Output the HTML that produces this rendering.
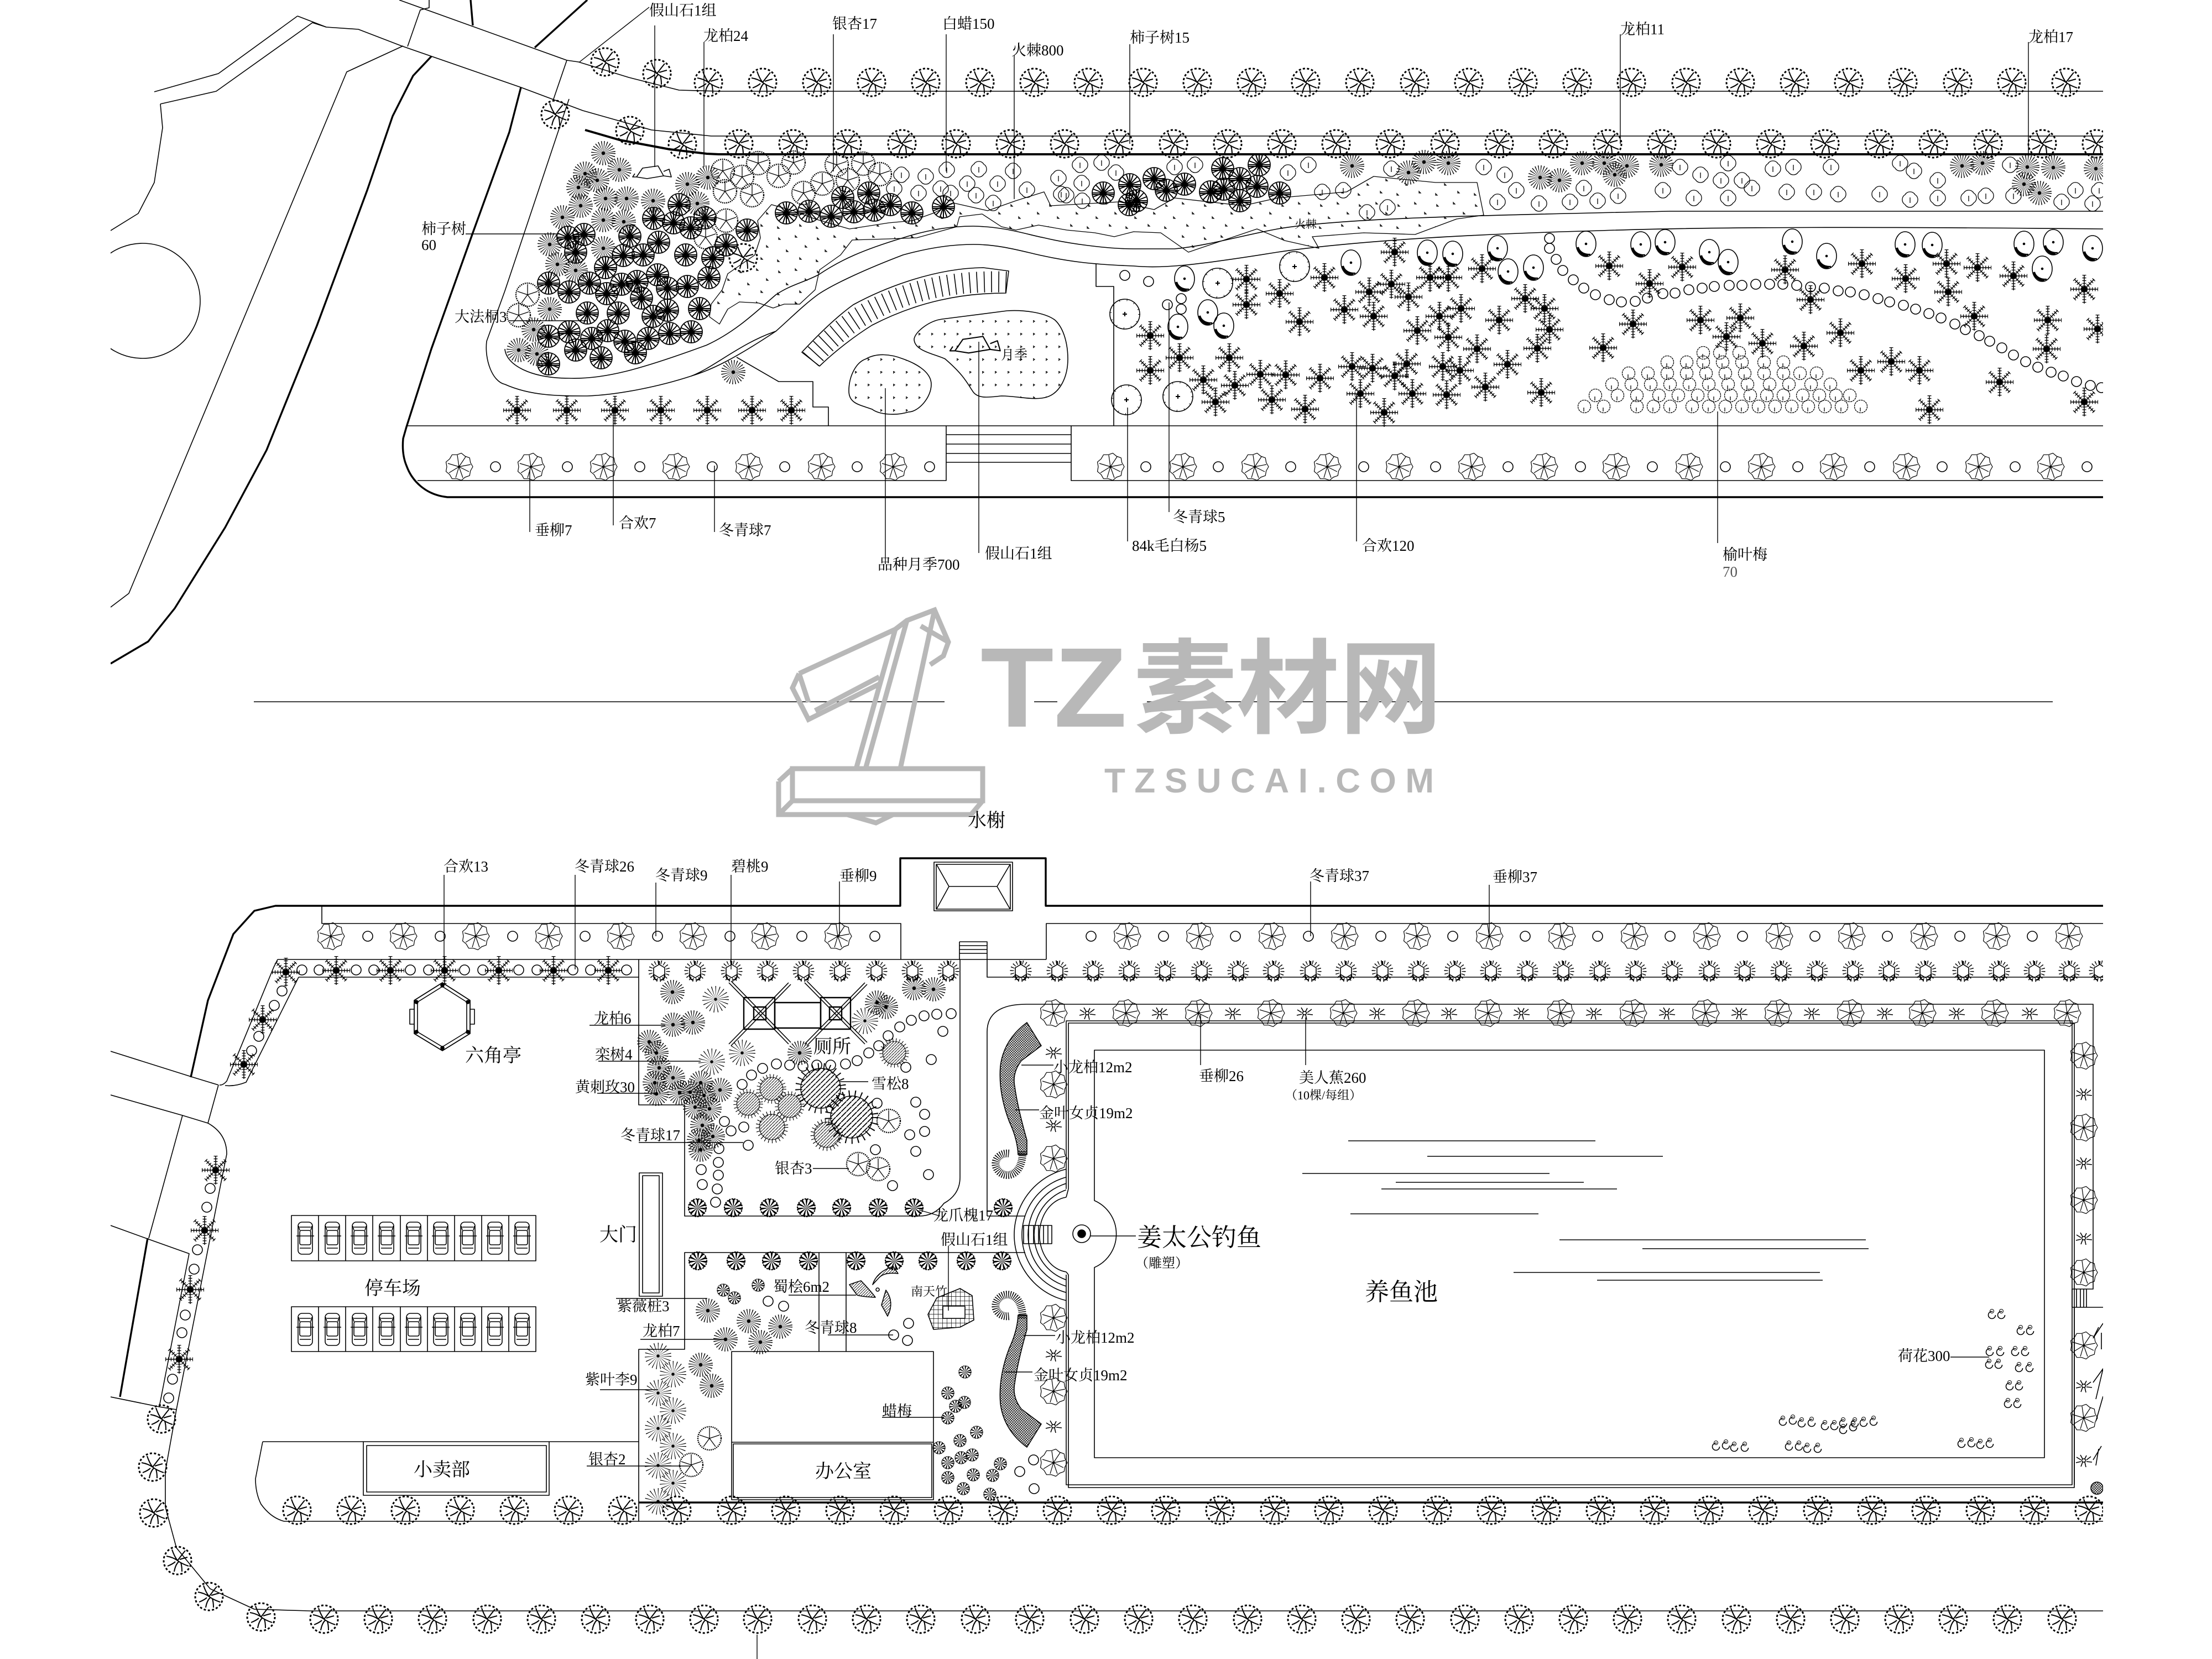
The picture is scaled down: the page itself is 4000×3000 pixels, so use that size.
<!DOCTYPE html>
<html><head><meta charset="utf-8"><style>
html,body{margin:0;padding:0;background:#fff}
svg{display:block}
text{font-family:"Liberation Serif","Noto Serif CJK SC",serif;fill:#000;stroke:none}
</style></head><body>
<svg xmlns="http://www.w3.org/2000/svg" width="4000" height="3000" viewBox="0 0 4000 3000">
<defs>
<clipPath id="pg"><rect x="200" y="0" width="3603" height="3000"/></clipPath>
<clipPath id="rc"><rect x="1700" y="2090" width="228" height="290"/></clipPath>
<pattern id="st" width="70" height="60" patternUnits="userSpaceOnUse"><path d="M8,10l3,3h-3zM38,6l3,3h-3zM56,24l3,3h-3zM22,32l3,3h-3zM46,46l3,3h-3zM6,50l3,3h-3z" fill="none" stroke="#000" stroke-width="1.2"/></pattern>
<pattern id="dt" x="1684" y="579" width="23" height="23" patternUnits="userSpaceOnUse"><path d="M0,0l3,2l-3,2z" fill="none" stroke="#000" stroke-width="1.2"/></pattern>
<pattern id="ht" width="5" height="5" patternUnits="userSpaceOnUse"><path d="M0,5L5,0" stroke="#000" stroke-width=".9"/></pattern>
<pattern id="xh" width="8" height="8" patternUnits="userSpaceOnUse"><path d="M0,0H8M0,0V8" stroke="#000" stroke-width="1.4"/></pattern>
<pattern id="hh" width="4.5" height="4.5" patternUnits="userSpaceOnUse"><path d="M0,4.5L4.5,0M0,0L4.5,4.5" stroke="#000" stroke-width=".8"/></pattern>
<g id="d"><circle r="25" stroke-width="3" stroke-dasharray="4 3.5"/><path stroke-width="2" d="M-20,-8Q-8,-6 0,0Q8,6 20,10M-10,-20Q-6,-8 0,0M14,-18Q6,-8 0,0M-18,10Q-8,6 -4,2M-6,20Q-4,8 2,2M8,20Q8,10 6,4M18,-6Q10,-4 4,-2"/></g>
<g id="w" stroke-width="1.2"><polygon points="25,0 20.7,7.5 19.2,16.1 11,19 4.3,24.6 -3.8,21.7 -12.5,21.7 -16.9,14.1 -23.5,8.6 -22,0 -23.5,-8.6 -16.9,-14.1 -12.5,-21.7 -3.8,-21.7 4.3,-24.6 11,-19 19.2,-16.1 20.7,-7.5"/><path d="M0,0L-3,-21M0,0L12,-18M0,0L21,-4M0,0L18,9M0,0L7,20M0,0L-6,20M0,0L-18,11M0,0L-20,-6"/><circle r="1.5" fill="#000"/></g>
<circle id="o" r="9"/>
<g id="s"><path stroke-width="1.5" d="M-25,0H25M0,-26V26M-18,-18L18,18M-18,18L18,-18"/><path stroke-width="7" stroke-dasharray="1.3 3.6" d="M-25,0H25M0,-26V26M-18,-18L18,18M-18,18L18,-18"/><circle r="4" fill="#000"/></g>
<g id="b"><circle r="11" stroke-width="22" stroke-dasharray=".8 2.1"/><circle r="2.5" fill="#000"/></g>
<g id="r"><circle r="12" stroke-width="24" stroke-dasharray=".7 3.3"/><circle r="2" fill="#000"/></g>
<g id="c"><circle r="20" stroke-width="1.8"/><path stroke-width="2" d="M-19,0H19M-19,3H19M0,-19V19M-13,-14L13,14M-13,14L13,-14M-6,-18L6,18M6,-18L-6,18M-18,-7L18,7M18,-7L-18,7"/></g>
<g id="f"><circle r="21" stroke-width="2.4" stroke-dasharray="2 1.6"/><path stroke-width="1.3" d="M0,0L0,-19M0,0L18,-6M0,0L11,15M0,0L-11,15M0,0L-18,-6"/></g>
<g id="l" stroke-width="1.3"><path d="M-9,-9A10.5,10.5 0 0 1 9,-9A10.5,10.5 0 0 1 9,9A10.5,10.5 0 0 1 -9,9A10.5,10.5 0 0 1 -9,-9ZM0,-4V6"/></g>
<g id="g"><circle r="16" stroke-width="2.2" stroke-dasharray="3 1.5"/><circle r="8" stroke-width="16" stroke-dasharray="2 2.6"/></g>
<g id="h"><polygon points="0,-12 10,-6 10,6 0,12 -10,6 -10,-6" stroke-width="1.6"/><circle r="16" stroke-width="7" stroke-dasharray="1.4 4.2"/><path stroke-width="2.4" d="M-10,6Q-10,16 -3,16M10,6Q10,16 3,16M0,-12V-18"/></g>
<g id="m"><ellipse rx="3.5" ry="3"/><path stroke-width="1.6" d="M-5,-1L-13,-6M-5,2L-14,4M5,-1L13,-7M5,2L15,3M-2,3L-5,11M2,3L4,12M-2,-3L-6,-10M2,-3L5,-9"/></g>
<g id="q"><circle r="20" fill="url(#ht)" stroke-width=".8"/><circle r="22" stroke-width="7" stroke-dasharray="1 4.6"/></g>
<g id="u"><circle r="27"/><circle r="26" stroke-width="4" stroke-dasharray="1 13"/><path stroke-width="2" d="M-4,0H4M0,-4V4"/></g>
<g id="e"><ellipse rx="18" ry="23"/><path stroke-width="4" d="M-15,6Q-10,21 4,21"/><path stroke-width="2.5" d="M-12,11Q-5,20 8,19"/><circle r="1.5" fill="#000"/></g>
<g id="n" stroke-width="1.3"><circle r="11.5" stroke-dasharray="3.5 1"/><path d="M-1,9V2"/></g>
<g id="k"><circle r="5.5" stroke-width="11" stroke-dasharray="1.3 1.9"/><circle r="11" stroke-dasharray="2 1"/></g>
<g id="p"><circle r="6.5" stroke-dasharray="32 9"/><circle cy="-7" r="3.5" stroke-width="1"/></g>
<g id="rk"><path d="M-27,8L-16,-8L12,-12L22,6L-8,11ZM-27,8L-34,8L-30,2M22,6L36,8L32,-6L22,-2"/></g>
<g id="car"><rect x="-13" y="-29" width="26" height="58" rx="7"/><rect x="-10" y="-14" width="20" height="26" rx="3"/><path d="M-10,-20H10M-10,18H10M-16,-4H16M-10,-14L-12,-22M10,-14L12,-22"/></g>
</defs>
<rect width="4000" height="3000" fill="#fff"/>
<g clip-path="url(#pg)" fill="none" stroke="#000" stroke-width="1.6" stroke-linejoin="round">

<!-- TOP: roads -->
<circle cx="258" cy="544" r="104"/>
<path d="M722,0L1025,109L1046,112L1137,140L1228,163L1300,165H3803"/>
<path d="M538,29L590,49L648,53L726,83L942,158L1054,200L1178,235L1286,246H3803"/>
<path d="M279,166L395,133L538,29M290,188L391,165L565,41L590,49M290,188L294,231L279,330L250,386L200,417"/>
<path d="M729,83L627,130L233,1073L200,1098"/>
<path d="M776,0V14L760,18L737,84M1025,109L1000,182M1029,179L913,526L880,617C876,650 890,690 913,695C960,716 1010,716 1062,716C1120,714 1195,698 1250,680C1290,665 1340,620 1403,599"/>
<g stroke-width="3.4">
<path d="M780,102L747,137L710,210L664,344L573,589L482,814L407,954L316,1100L268,1160L200,1200"/>
<path d="M851,0L855,46M1062,0L967,86"/>
<path d="M942,158L921,239L855,421L780,631L735,772L729,793C727,815 730,830 735,842C745,870 770,895 809,899H3803"/>
<path d="M1058,235L1120,253L1211,270L1278,278L1300,279H3803" stroke-width="4"/>
</g>
<!-- garden road curves -->
<path d="M913,631C915,660 960,684 1029,684C1090,686 1153,670 1278,624C1330,600 1366,565 1403,533C1430,515 1450,512 1480,497C1520,470 1560,452 1633,430C1680,415 1720,409 1760,409C1820,410 1860,425 1888,430C1930,440 2000,450 2050,450L2124,450C2180,445 2250,425 2310,414C2420,395 2650,390 3019,382H3803"/>
<path d="M1250,680C1290,668 1332,646 1403,599C1430,575 1455,550 1480,532C1510,512 1570,485 1633,461C1680,448 1720,442 1760,442C1810,442 1850,455 1888,463C1930,472 1970,478 2050,481C2100,486 2160,480 2310,456C2420,440 2600,425 2895,417C3100,410 3400,410 3803,414"/>
<path d="M1332,646L1408,690H1470V736H1498V770M1982,477V518H2014V770M735,770H3803M755,869H1711V770M1937,770V869H3803M1711,786H1937M1711,803H1937M1711,820H1937M1711,836H1937"/>
<!-- stipple -->
<path fill="url(#st)" stroke-width="1.3" d="M1395,370L1370,399L1375,430L1365,461L1316,495L1306,524L1286,550L1283,573L1301,586L1316,559L1337,546L1372,548L1398,557L1418,550L1446,550L1474,524L1482,488L1520,461L1541,434L1607,432L1658,430L1730,410L1735,392L1776,387L1811,410L1837,416L1878,407L1929,416L1980,421L2015,428L2050,419L2099,421L2149,456L2273,414L2323,435L2385,449L2373,428L2466,421L2559,424L2634,396L2683,389L2671,330L2596,330L2484,319L2435,347L2310,358L2248,372L2124,358L2087,379L2024,365L1900,372L1888,347L1837,363L1786,381L1724,367L1689,385L1650,399L1607,403L1536,414L1474,396L1434,381Z"/>
<!-- bench arc -->
<path d="M1450,637C1475,610 1510,575 1543,551C1600,520 1690,485 1778,484L1824,490L1819,530C1740,530 1660,545 1577,588C1545,608 1510,635 1482,662Z"/>
<path stroke-width="38" stroke-dasharray="1.6 11.5" d="M1466,650C1490,622 1525,590 1560,570C1620,535 1700,506 1821,510"/>
<!-- beds -->
<path fill="url(#dt)" d="M1653,613C1655,600 1680,580 1704,577L1821,562C1850,560 1890,565 1908,579C1925,595 1931,625 1931,649C1931,680 1918,710 1893,718C1870,725 1840,716 1811,716C1790,718 1770,722 1760,709C1750,695 1745,680 1709,649C1690,640 1653,635 1653,613Z"/>
<path fill="url(#dt)" d="M1535,707C1535,680 1548,655 1566,649C1585,638 1610,640 1633,649C1650,655 1684,670 1684,695C1684,720 1660,745 1643,745C1620,752 1590,750 1577,740C1555,732 1535,730 1535,707Z"/>
<use href="#rk" x="1178" y="312"/><g transform="translate(1762,624) scale(1.3)"><use href="#rk"/></g>

<!-- top tree rows -->
<g transform="translate(0,149)"><use href="#d" x="1281"/><use href="#d" x="1379"/><use href="#d" x="1477"/><use href="#d" x="1576"/><use href="#d" x="1674"/><use href="#d" x="1772"/><use href="#d" x="1870"/><use href="#d" x="1968"/><use href="#d" x="2067"/><use href="#d" x="2165"/><use href="#d" x="2263"/><use href="#d" x="2361"/><use href="#d" x="2459"/><use href="#d" x="2558"/><use href="#d" x="2656"/><use href="#d" x="2754"/><use href="#d" x="2852"/><use href="#d" x="2950"/><use href="#d" x="3049"/><use href="#d" x="3147"/><use href="#d" x="3245"/><use href="#d" x="3343"/><use href="#d" x="3441"/><use href="#d" x="3540"/><use href="#d" x="3638"/><use href="#d" x="3736"/></g>
<g transform="translate(0,260)"><use href="#d" x="1336"/><use href="#d" x="1434"/><use href="#d" x="1532"/><use href="#d" x="1631"/><use href="#d" x="1729"/><use href="#d" x="1827"/><use href="#d" x="1925"/><use href="#d" x="2023"/><use href="#d" x="2122"/><use href="#d" x="2220"/><use href="#d" x="2318"/><use href="#d" x="2416"/><use href="#d" x="2514"/><use href="#d" x="2613"/><use href="#d" x="2711"/><use href="#d" x="2809"/><use href="#d" x="2907"/><use href="#d" x="3005"/><use href="#d" x="3104"/><use href="#d" x="3202"/><use href="#d" x="3300"/><use href="#d" x="3398"/><use href="#d" x="3496"/><use href="#d" x="3595"/><use href="#d" x="3693"/><use href="#d" x="3791"/></g>
<use href="#d" x="1094" y="112"/><use href="#d" x="1188" y="133"/><use href="#d" x="1004" y="207"/><use href="#d" x="1139" y="236"/><use href="#d" x="1234" y="261"/><use href="#d" x="1344" y="466"/>

<!-- top row willow / balls -->
<g transform="translate(0,844)"><use href="#w" x="830"/><use href="#w" x="960"/><use href="#w" x="1091"/><use href="#w" x="1222"/><use href="#w" x="1354"/><use href="#w" x="1485"/><use href="#w" x="1615"/><use href="#w" x="2008"/><use href="#w" x="2139"/><use href="#w" x="2269"/><use href="#w" x="2400"/><use href="#w" x="2530"/><use href="#w" x="2661"/><use href="#w" x="2792"/><use href="#w" x="2922"/><use href="#w" x="3054"/><use href="#w" x="3185"/><use href="#w" x="3315"/><use href="#w" x="3447"/><use href="#w" x="3578"/><use href="#w" x="3708"/>
<use href="#o" x="896"/><use href="#o" x="1026"/><use href="#o" x="1157"/><use href="#o" x="1288"/><use href="#o" x="1419"/><use href="#o" x="1550"/><use href="#o" x="1681"/><use href="#o" x="2072"/><use href="#o" x="2203"/><use href="#o" x="2334"/><use href="#o" x="2466"/><use href="#o" x="2596"/><use href="#o" x="2727"/><use href="#o" x="2858"/><use href="#o" x="2988"/><use href="#o" x="3120"/><use href="#o" x="3251"/><use href="#o" x="3381"/><use href="#o" x="3512"/><use href="#o" x="3644"/><use href="#o" x="3774"/></g>
<g transform="translate(0,742)"><use href="#s" x="935"/><use href="#s" x="1025"/><use href="#s" x="1112"/><use href="#s" x="1195"/><use href="#s" x="1279"/><use href="#s" x="1360"/><use href="#s" x="1431"/></g>

<!-- bursts top -->
<use href="#b" x="1326" y="673"/><use href="#b" x="1091" y="277"/><use href="#b" x="1058" y="314"/><use href="#b" x="1120" y="307"/><use href="#b" x="1080" y="326"/><use href="#b" x="1046" y="339"/><use href="#b" x="1050" y="372"/><use href="#b" x="1095" y="359"/><use href="#b" x="1133" y="359"/><use href="#b" x="1181" y="363"/><use href="#b" x="1243" y="333"/><use href="#b" x="1280" y="321"/><use href="#b" x="1261" y="368"/><use href="#b" x="1017" y="393"/><use href="#b" x="1091" y="398"/><use href="#b" x="1128" y="401"/><use href="#b" x="994" y="442"/><use href="#b" x="1091" y="449"/><use href="#b" x="1008" y="478"/><use href="#b" x="1041" y="489"/><use href="#b" x="994" y="559"/><use href="#b" x="965" y="596"/><use href="#b" x="938" y="633"/><use href="#b" x="971" y="640"/>
<use href="#b" x="2445" y="300"/><use href="#b" x="2547" y="312"/><use href="#b" x="2575" y="293"/><use href="#b" x="2619" y="295"/><use href="#b" x="2785" y="321"/><use href="#b" x="2820" y="326"/><use href="#b" x="2861" y="295"/><use href="#b" x="2901" y="295"/><use href="#b" x="2942" y="300"/><use href="#b" x="2920" y="316"/><use href="#b" x="3004" y="298"/><use href="#b" x="3548" y="300"/><use href="#b" x="3585" y="295"/><use href="#b" x="3666" y="302"/><use href="#b" x="3713" y="303"/><use href="#b" x="3660" y="333"/><use href="#b" x="3688" y="349"/><use href="#b" x="3790" y="305"/>

<!-- persimmon sectors -->
<use href="#c" x="1228" y="370"/><use href="#c" x="1182" y="395"/><use href="#c" x="1218" y="403"/><use href="#c" x="1249" y="412"/><use href="#c" x="1275" y="394"/><use href="#c" x="1351" y="416"/><use href="#c" x="1027" y="429"/><use href="#c" x="1056" y="424"/><use href="#c" x="1139" y="427"/><use href="#c" x="1191" y="438"/><use href="#c" x="1041" y="456"/><use href="#c" x="1313" y="443"/><use href="#c" x="1289" y="466"/><use href="#c" x="1240" y="461"/><use href="#c" x="1163" y="461"/><use href="#c" x="1127" y="462"/><use href="#c" x="1095" y="484"/><use href="#c" x="992" y="512"/><use href="#c" x="1066" y="512"/><use href="#c" x="1029" y="528"/><use href="#c" x="1097" y="531"/><use href="#c" x="1124" y="514"/><use href="#c" x="1152" y="509"/><use href="#c" x="1189" y="497"/><use href="#c" x="1207" y="521"/><use href="#c" x="1243" y="518"/><use href="#c" x="1282" y="502"/><use href="#c" x="1160" y="539"/><use href="#c" x="1265" y="558"/><use href="#c" x="1181" y="572"/><use href="#c" x="1207" y="561"/><use href="#c" x="1211" y="603"/><use href="#c" x="1250" y="600"/><use href="#c" x="1172" y="612"/><use href="#c" x="1130" y="617"/><use href="#c" x="1099" y="598"/><use href="#c" x="1070" y="612"/><use href="#c" x="1029" y="600"/><use href="#c" x="992" y="608"/><use href="#c" x="1041" y="633"/><use href="#c" x="1087" y="647"/><use href="#c" x="1149" y="638"/><use href="#c" x="992" y="658"/><use href="#c" x="1062" y="566"/><use href="#c" x="1118" y="566"/>
<use href="#c" x="1571" y="349"/><use href="#c" x="1524" y="357"/><use href="#c" x="1610" y="370"/><use href="#c" x="1544" y="383"/><use href="#c" x="1581" y="380"/><use href="#c" x="1422" y="385"/><use href="#c" x="1463" y="382"/><use href="#c" x="1503" y="391"/><use href="#c" x="1649" y="385"/><use href="#c" x="1706" y="374"/><use href="#c" x="1995" y="349"/><use href="#c" x="2043" y="334"/><use href="#c" x="2042" y="370"/><use href="#c" x="2087" y="323"/><use href="#c" x="2142" y="333"/><use href="#c" x="2109" y="344"/><use href="#c" x="2055" y="363"/><use href="#c" x="2211" y="305"/><use href="#c" x="2242" y="323"/><use href="#c" x="2277" y="298"/><use href="#c" x="2273" y="337"/><use href="#c" x="2189" y="347"/><use href="#c" x="2213" y="342"/><use href="#c" x="2314" y="349"/><use href="#c" x="2242" y="363"/>

<!-- flower -->
<use href="#f" x="1307" y="309"/><use href="#f" x="1342" y="320"/><use href="#f" x="1371" y="295"/><use href="#f" x="1435" y="294"/><use href="#f" x="1408" y="318"/><use href="#f" x="1311" y="346"/><use href="#f" x="1360" y="353"/><use href="#f" x="1487" y="332"/><use href="#f" x="1453" y="349"/><use href="#f" x="1513" y="298"/><use href="#f" x="1561" y="296"/><use href="#f" x="1591" y="315"/><use href="#f" x="1533" y="326"/><use href="#f" x="1313" y="399"/><use href="#f" x="1276" y="429"/><use href="#f" x="954" y="533"/><use href="#f" x="938" y="570"/>
<!-- clouds -->
<use href="#l" x="1630" y="316"/><use href="#l" x="1617" y="341"/><use href="#l" x="1674" y="319"/><use href="#l" x="1712" y="307"/><use href="#l" x="1661" y="349"/><use href="#l" x="1701" y="341"/><use href="#l" x="1719" y="349"/><use href="#l" x="1770" y="306"/><use href="#l" x="1749" y="332"/><use href="#l" x="1765" y="353"/><use href="#l" x="1796" y="367"/><use href="#l" x="1804" y="332"/><use href="#l" x="1832" y="309"/><use href="#l" x="1857" y="343"/><use href="#l" x="1914" y="322"/><use href="#l" x="1953" y="298"/><use href="#l" x="1992" y="294"/><use href="#l" x="2018" y="312"/><use href="#l" x="1956" y="331"/><use href="#l" x="1928" y="353"/><use href="#l" x="1957" y="363"/><use href="#l" x="1919" y="351"/><use href="#l" x="2124" y="302"/><use href="#l" x="2161" y="298"/><use href="#l" x="2329" y="312"/><use href="#l" x="2366" y="298"/><use href="#l" x="2391" y="347"/><use href="#l" x="2429" y="344"/><use href="#l" x="2516" y="305"/><use href="#l" x="2683" y="302"/><use href="#l" x="2721" y="316"/><use href="#l" x="2742" y="344"/><use href="#l" x="2708" y="365"/><use href="#l" x="2783" y="368"/><use href="#l" x="2839" y="365"/><use href="#l" x="2864" y="340"/><use href="#l" x="2889" y="363"/><use href="#l" x="2926" y="354"/><use href="#l" x="3007" y="344"/><use href="#l" x="3063" y="358"/><use href="#l" x="3125" y="358"/><use href="#l" x="3038" y="302"/><use href="#l" x="3075" y="316"/><use href="#l" x="3125" y="295"/><use href="#l" x="3112" y="326"/><use href="#l" x="3150" y="326"/><use href="#l" x="3168" y="340"/><use href="#l" x="3206" y="305"/><use href="#l" x="3243" y="302"/><use href="#l" x="3231" y="347"/><use href="#l" x="3280" y="347"/><use href="#l" x="3324" y="351"/><use href="#l" x="3311" y="302"/><use href="#l" x="3399" y="351"/><use href="#l" x="3436" y="295"/><use href="#l" x="3454" y="361"/><use href="#l" x="3504" y="358"/><use href="#l" x="3504" y="326"/><use href="#l" x="3461" y="309"/><use href="#l" x="3560" y="358"/><use href="#l" x="3591" y="354"/><use href="#l" x="3635" y="298"/><use href="#l" x="3641" y="354"/><use href="#l" x="3728" y="365"/><use href="#l" x="3753" y="344"/><use href="#l" x="3784" y="368"/><use href="#l" x="3796" y="344"/><use href="#l" x="2472" y="384"/><use href="#l" x="2509" y="375"/>

<!-- stars top right -->
<use href="#s" x="2254" y="505"/><use href="#s" x="2395" y="502"/><use href="#s" x="2314" y="531"/><use href="#s" x="2254" y="551"/><use href="#s" x="2522" y="456"/><use href="#s" x="2680" y="486"/><use href="#s" x="2586" y="502"/><use href="#s" x="2619" y="502"/><use href="#s" x="2516" y="514"/><use href="#s" x="2476" y="528"/><use href="#s" x="2547" y="537"/><use href="#s" x="2431" y="560"/><use href="#s" x="2350" y="582"/><use href="#s" x="2484" y="572"/><use href="#s" x="2603" y="572"/><use href="#s" x="2642" y="558"/><use href="#s" x="2563" y="598"/><use href="#s" x="2711" y="579"/><use href="#s" x="2758" y="540"/><use href="#s" x="2793" y="558"/><use href="#s" x="2802" y="596"/><use href="#s" x="2780" y="630"/><use href="#s" x="2619" y="610"/><use href="#s" x="2671" y="631"/><use href="#s" x="2080" y="607"/><use href="#s" x="2133" y="647"/><use href="#s" x="2223" y="647"/><use href="#s" x="2080" y="670"/><use href="#s" x="2176" y="687"/><use href="#s" x="2233" y="697"/><use href="#s" x="2279" y="677"/><use href="#s" x="2325" y="678"/><use href="#s" x="2387" y="684"/><use href="#s" x="2445" y="663"/><use href="#s" x="2482" y="666"/><use href="#s" x="2544" y="658"/><use href="#s" x="2522" y="680"/><use href="#s" x="2609" y="663"/><use href="#s" x="2640" y="670"/><use href="#s" x="2726" y="659"/><use href="#s" x="2686" y="700"/><use href="#s" x="2616" y="714"/><use href="#s" x="2554" y="712"/><use href="#s" x="2460" y="712"/><use href="#s" x="2503" y="746"/><use href="#s" x="2360" y="740"/><use href="#s" x="2300" y="723"/><use href="#s" x="2198" y="727"/><use href="#s" x="2787" y="710"/><use href="#s" x="2910" y="481"/><use href="#s" x="3042" y="483"/><use href="#s" x="2983" y="513"/><use href="#s" x="2953" y="586"/><use href="#s" x="2899" y="629"/><use href="#s" x="3228" y="488"/><use href="#s" x="3274" y="542"/><use href="#s" x="3367" y="477"/><use href="#s" x="3520" y="477"/><use href="#s" x="3576" y="484"/><use href="#s" x="3641" y="499"/><use href="#s" x="3446" y="504"/><use href="#s" x="3523" y="528"/><use href="#s" x="3570" y="572"/><use href="#s" x="3769" y="523"/><use href="#s" x="3703" y="579"/><use href="#s" x="3793" y="595"/><use href="#s" x="3701" y="631"/><use href="#s" x="3075" y="579"/><use href="#s" x="3147" y="575"/><use href="#s" x="3122" y="609"/><use href="#s" x="3187" y="621"/><use href="#s" x="3262" y="626"/><use href="#s" x="3328" y="602"/><use href="#s" x="3365" y="670"/><use href="#s" x="3420" y="654"/><use href="#s" x="3471" y="670"/><use href="#s" x="3616" y="691"/><use href="#s" x="3769" y="727"/><use href="#s" x="3489" y="741"/>
<!-- ovals -->
<use href="#e" x="2443" y="475"/><use href="#e" x="2581" y="457"/><use href="#e" x="2627" y="459"/><use href="#e" x="2708" y="449"/><use href="#e" x="2727" y="491"/><use href="#e" x="2773" y="484"/><use href="#e" x="2142" y="504"/><use href="#e" x="2868" y="441"/><use href="#e" x="2967" y="442"/><use href="#e" x="3011" y="438"/><use href="#e" x="3091" y="456"/><use href="#e" x="3125" y="474"/><use href="#e" x="3241" y="437"/><use href="#e" x="3303" y="463"/><use href="#e" x="3445" y="442"/><use href="#e" x="3494" y="443"/><use href="#e" x="3660" y="441"/><use href="#e" x="3713" y="438"/><use href="#e" x="3784" y="449"/><use href="#e" x="3693" y="486"/><use href="#e" x="2184" y="565"/><use href="#e" x="2213" y="589"/><use href="#e" x="2130" y="591"/>
<use href="#u" x="2202" y="512"/><use href="#u" x="2341" y="482"/><use href="#u" x="2034" y="568"/><use href="#u" x="2037" y="723"/><use href="#u" x="2130" y="717"/>
<!-- ball path -->
<g><use href="#o" x="2034" y="498"/><use href="#o" x="2077" y="509"/><use href="#o" x="2111" y="551"/><use href="#o" x="2136" y="540"/><use href="#o" x="2136" y="559"/><use href="#o" x="2802" y="431"/><use href="#o" x="2802" y="449"/><use href="#o" x="2814" y="469"/><use href="#o" x="2826" y="489"/><use href="#o" x="2845" y="506"/><use href="#o" x="2864" y="521"/><use href="#o" x="2885" y="533"/><use href="#o" x="2910" y="542"/><use href="#o" x="2932" y="546"/><use href="#o" x="2957" y="545"/><use href="#o" x="2979" y="539"/><use href="#o" x="3007" y="531"/><use href="#o" x="3029" y="530"/><use href="#o" x="3054" y="524"/><use href="#o" x="3078" y="521"/><use href="#o" x="3100" y="518"/><use href="#o" x="3127" y="516"/><use href="#o" x="3150" y="516"/><use href="#o" x="3175" y="514"/><use href="#o" x="3200" y="514"/><use href="#o" x="3224" y="514"/><use href="#o" x="3249" y="516"/><use href="#o" x="3274" y="519"/><use href="#o" x="3299" y="521"/><use href="#o" x="3324" y="526"/><use href="#o" x="3346" y="528"/><use href="#o" x="3371" y="533"/><use href="#o" x="3396" y="540"/><use href="#o" x="3417" y="546"/><use href="#o" x="3442" y="552"/><use href="#o" x="3464" y="559"/><use href="#o" x="3488" y="567"/><use href="#o" x="3510" y="575"/><use href="#o" x="3535" y="586"/><use href="#o" x="3554" y="596"/><use href="#o" x="3579" y="607"/><use href="#o" x="3598" y="617"/><use href="#o" x="3620" y="629"/><use href="#o" x="3641" y="642"/><use href="#o" x="3663" y="654"/><use href="#o" x="3685" y="664"/><use href="#o" x="3709" y="673"/><use href="#o" x="3731" y="680"/><use href="#o" x="3755" y="690"/><use href="#o" x="3780" y="697"/><use href="#o" x="3800" y="701"/></g>
<!-- yeyemei -->
<g transform="translate(0,735)"><use href="#n" x="2865"/><use href="#n" x="2900"/><use href="#n" x="2960"/><use href="#n" x="2990"/><use href="#n" x="3020"/><use href="#n" x="3060"/><use href="#n" x="3090"/><use href="#n" x="3120"/><use href="#n" x="3150"/><use href="#n" x="3180"/><use href="#n" x="3210"/><use href="#n" x="3240"/><use href="#n" x="3270"/><use href="#n" x="3300"/><use href="#n" x="3330"/><use href="#n" x="3365"/></g>
<g transform="translate(0,715)"><use href="#n" x="2885"/><use href="#n" x="2925"/><use href="#n" x="2960"/><use href="#n" x="3000"/><use href="#n" x="3035"/><use href="#n" x="3070"/><use href="#n" x="3100"/><use href="#n" x="3130"/><use href="#n" x="3165"/><use href="#n" x="3195"/><use href="#n" x="3225"/><use href="#n" x="3260"/><use href="#n" x="3290"/><use href="#n" x="3320"/><use href="#n" x="3345"/></g>
<g transform="translate(0,695)"><use href="#n" x="2915"/><use href="#n" x="2950"/><use href="#n" x="2985"/><use href="#n" x="3020"/><use href="#n" x="3055"/><use href="#n" x="3090"/><use href="#n" x="3125"/><use href="#n" x="3160"/><use href="#n" x="3200"/><use href="#n" x="3235"/><use href="#n" x="3275"/><use href="#n" x="3310"/></g>
<g transform="translate(0,675)"><use href="#n" x="2945"/><use href="#n" x="2980"/><use href="#n" x="3015"/><use href="#n" x="3050"/><use href="#n" x="3085"/><use href="#n" x="3120"/><use href="#n" x="3155"/><use href="#n" x="3190"/><use href="#n" x="3225"/><use href="#n" x="3255"/><use href="#n" x="3285"/></g>
<g transform="translate(0,655)"><use href="#n" x="3015"/><use href="#n" x="3050"/><use href="#n" x="3080"/><use href="#n" x="3115"/><use href="#n" x="3150"/><use href="#n" x="3190"/><use href="#n" x="3225"/></g>
<g transform="translate(0,638)"><use href="#n" x="3080"/><use href="#n" x="3110"/><use href="#n" x="3145"/></g>

<!-- top leaders -->
<path stroke-width="1.4" d="M1048,112L1174,13M1184,46V302M1273,76V302M1507,62V310M1711,62V310M1834,100V360M2043,80V260M2930,62V260M3668,76V280M842,423H1012M921,580H1062M958,849V962M1109,744V950M1292,842V962M1601,702V1020M1770,618V1000M2114,547V926M2039,737V979M2453,712V979M3106,744V982"/>

<!-- DIVIDER -->
<path d="M459,1269H1708M1870,1269H1912M2074,1269H3712"/>

<!-- BOTTOM structure -->
<path stroke-width="3.4" d="M345,1948L376,1809L422,1689L460,1647L498,1638H1628V1552H1891V1638H3803"/>
<path stroke-width="3.4" d="M267,2239L217,2526M1155,2717H3803"/>
<path d="M582,1638V1670H1629V1735M1892,1735V1670H3803M502,1735H1892M540,1767H1155M1785,1735V1767H3803"/>
<path d="M1735,1703H1785V1735M1735,1710H1785M1735,1717H1785M1735,1724H1785M1735,1703V1735"/>
<path d="M502,1735L495,1749L410,1955Q403,1963 397,1962M540,1767L445,1957Q425,1965 407,1963M395,1962L376,2031M200,1901L349,1948L395,1962"/>
<path d="M200,1980L330,2017L376,2031Q410,2050 410,2087L399,2142L319,2549M330,2017L269,2239M200,2216L269,2241L342,2267L288,2544M200,2526L288,2544L319,2549L299,2660L299,2725L319,2799L380,2873L460,2910L560,2913H3803"/>
<path d="M475,2607H657M993,2607H1155M475,2607L462,2674Q462,2700 472,2720Q490,2745 514,2751H3803"/>
<rect x="657" y="2607" width="336" height="97"/><rect x="663" y="2614" width="325" height="84"/>
<rect x="1156" y="2121" width="42" height="223"/><rect x="1162" y="2126" width="30" height="212"/>
<path d="M1736,1735V2129Q1736,2160 1707,2176Q1690,2199 1662,2199H1238V1998H1155V1735"/>
<path d="M1854,2265H1238V2440H1155V2751M1481,2265V2444M1530,2265V2444M1323,2444H1688V2712H1323ZM1323,2608H1688"/>
<rect x="1326" y="2611" width="359" height="97"/>
<!-- pavilion -->
<rect x="1689" y="1559" width="142" height="88"/><rect x="1693" y="1563" width="134" height="81"/>
<path d="M1694,1564L1716,1603L1694,1643M1826,1564L1803,1603L1826,1643M1716,1603H1803"/>
<!-- toilets -->
<rect x="1345" y="1804" width="56" height="57" stroke-width="2.4"/><rect x="1401" y="1813" width="83" height="46" stroke-width="2.4"/><rect x="1484" y="1804" width="54" height="57" stroke-width="2.4"/>
<rect x="1363" y="1821" width="22" height="23" stroke-width="2.4"/><rect x="1500" y="1821" width="22" height="23" stroke-width="2.4"/>
<path d="M1318,1777L1426,1888M1322,1774L1430,1885M1426,1777L1318,1888M1430,1780L1322,1891M1455,1777L1564,1888M1459,1774L1568,1885M1564,1777L1455,1888M1568,1780L1459,1891"/>
<!-- hexagon pavilion -->
<polygon points="800,1777 850,1809 850,1869 800,1900 749,1869 749,1809" stroke-width="1.8"/>
<polygon points="800,1784 844,1812 844,1866 800,1893 755,1866 755,1812"/>
<path d="M749,1825H741V1852H749M850,1825H858V1852H850"/>
<g fill="#000"><circle cx="800" cy="1782" r="3"/><circle cx="846" cy="1812" r="3"/><circle cx="846" cy="1866" r="3"/><circle cx="800" cy="1895" r="3"/><circle cx="753" cy="1866" r="3"/><circle cx="753" cy="1812" r="3"/></g>
<!-- parking -->
<path d="M527,2198H969V2280H527ZM576,2198V2280M625,2198V2280M674,2198V2280M724,2198V2280M773,2198V2280M822,2198V2280M871,2198V2280M920,2198V2280M527,2363H969V2444H527ZM576,2363V2444M625,2363V2444M674,2363V2444M724,2363V2444M773,2363V2444M822,2363V2444M871,2363V2444M920,2363V2444"/>
<g transform="translate(0,2239)"><use href="#car" x="552"/><use href="#car" x="601"/><use href="#car" x="650"/><use href="#car" x="699"/><use href="#car" x="748"/><use href="#car" x="797"/><use href="#car" x="846"/><use href="#car" x="895"/><use href="#car" x="944"/></g>
<g transform="translate(0,2404)"><use href="#car" x="552"/><use href="#car" x="601"/><use href="#car" x="650"/><use href="#car" x="699"/><use href="#car" x="748"/><use href="#car" x="797"/><use href="#car" x="846"/><use href="#car" x="895"/><use href="#car" x="944"/></g>
<!-- pond -->
<path d="M1785,2199V1891V1866Q1785,1816 1856,1816H3785V2331H3747"/>
<path d="M1854,2199H1785"/>
<path d="M1928,2150V1846H3747V2685H1928V2305M1932,2150V1850H3751V2690H1932V2305"/>
<path d="M1979,2171V1899H3697V2636H1979V2292A66,66 0 0 0 1979,2171Z"/>
<path d="M1928,2165A55,68 0 0 0 1928,2300M1932,2150L1928,2165M1932,2305L1928,2300"/>
<g clip-path="url(#rc)"><circle cx="1956" cy="2233" r="86"/><circle cx="1956" cy="2233" r="97"/><circle cx="1956" cy="2233" r="108"/><circle cx="1956" cy="2233" r="122"/></g>
<path d="M1851,2216H1902V2249H1851ZM1860,2216V2249M1869,2216V2249M1878,2216V2249M1887,2216V2249M1895,2216V2249"/>
<circle cx="1956" cy="2231" r="16"/><circle cx="1956" cy="2231" r="7" fill="#000"/>
<path d="M1972,2235H2054"/>
<path d="M3747,2364H3803M3747,2331V2364M3755,2331V2364M3762,2331V2364M3768,2331V2364M3773,2331V2364M3751,2364V2685"/>
<path d="M2438,2063H2885M2581,2091H3007M2355,2122H2802M2524,2138H2864M2498,2150H2924M2442,2195H2782M2820,2242H3374M2970,2258H3379M2737,2301H3291M2888,2315H3296"/>
<!-- S hedges -->
<g id="hg"><path fill="url(#hh)" stroke-width="1.6" d="M1857,1849L1883,1891L1847,1918Q1830,1940 1835,1965Q1840,2002 1857,2062L1857,2088L1841,2088Q1840,2060 1825,2028Q1805,1975 1809,1928Q1815,1880 1857,1849Z"/><path stroke-width="14" stroke-dasharray="1.4 2.2" d="M1849,2082C1850,2125 1820,2133 1806,2118C1792,2102 1806,2083 1826,2086"/></g>
<g transform="translate(0,4466) scale(1,-1)"><use href="#hg"/></g>
<path fill="url(#ht)" d="M1578,2323Q1585,2300 1615,2290L1624,2303Q1600,2300 1590,2310Z"/>
<path fill="url(#ht)" d="M1536,2323Q1550,2318 1557,2316Q1575,2335 1583,2346Q1560,2345 1550,2342Z"/>
<path fill="url(#ht)" d="M1602,2333Q1618,2355 1605,2380Q1600,2370 1594,2360Z"/>
<path fill="url(#xh)" d="M1678,2377L1694,2347L1736,2330L1758,2343L1761,2387L1736,2400L1688,2404Z"/>
<circle cx="1587" cy="2332" r="3"/>
<rect x="1705" y="2362" width="40" height="22" fill="#fff"/>

<!-- lower rows -->
<g transform="translate(0,1693)"><use href="#w" x="598"/><use href="#w" x="729"/><use href="#w" x="860"/><use href="#w" x="992"/><use href="#w" x="1122"/><use href="#w" x="1253"/><use href="#w" x="1383"/><use href="#w" x="1515"/><use href="#w" x="2038"/><use href="#w" x="2169"/><use href="#w" x="2300"/><use href="#w" x="2431"/><use href="#w" x="2562"/><use href="#w" x="2693"/><use href="#w" x="2824"/><use href="#w" x="2955"/><use href="#w" x="3086"/><use href="#w" x="3217"/><use href="#w" x="3348"/><use href="#w" x="3479"/><use href="#w" x="3610"/><use href="#w" x="3741"/>
<use href="#o" x="665"/><use href="#o" x="796"/><use href="#o" x="927"/><use href="#o" x="1058"/><use href="#o" x="1189"/><use href="#o" x="1320"/><use href="#o" x="1450"/><use href="#o" x="1582"/><use href="#o" x="1973"/><use href="#o" x="2104"/><use href="#o" x="2234"/><use href="#o" x="2366"/><use href="#o" x="2497"/><use href="#o" x="2627"/><use href="#o" x="2758"/><use href="#o" x="2889"/><use href="#o" x="3020"/><use href="#o" x="3151"/><use href="#o" x="3282"/><use href="#o" x="3413"/><use href="#o" x="3544"/><use href="#o" x="3675"/></g>
<g transform="translate(0,1756)"><use href="#h" x="1192"/><use href="#h" x="1257"/><use href="#h" x="1323"/><use href="#h" x="1388"/><use href="#h" x="1453"/><use href="#h" x="1519"/><use href="#h" x="1585"/><use href="#h" x="1650"/><use href="#h" x="1715"/><use href="#h" x="1846"/><use href="#h" x="1912"/><use href="#h" x="1977"/><use href="#h" x="2042"/><use href="#h" x="2107"/><use href="#h" x="2173"/><use href="#h" x="2239"/><use href="#h" x="2303"/><use href="#h" x="2370"/><use href="#h" x="2434"/><use href="#h" x="2500"/><use href="#h" x="2565"/><use href="#h" x="2631"/><use href="#h" x="2696"/><use href="#h" x="2762"/><use href="#h" x="2827"/><use href="#h" x="2893"/><use href="#h" x="2958"/><use href="#h" x="3024"/><use href="#h" x="3091"/><use href="#h" x="3155"/><use href="#h" x="3221"/><use href="#h" x="3286"/><use href="#h" x="3351"/><use href="#h" x="3416"/><use href="#h" x="3482"/><use href="#h" x="3550"/><use href="#h" x="3615"/><use href="#h" x="3679"/><use href="#h" x="3742"/><use href="#h" x="3797"/></g>
<use href="#s" x="517" y="1758"/><use href="#s" x="608" y="1755"/><use href="#s" x="706" y="1755"/><use href="#s" x="804" y="1755"/><use href="#s" x="902" y="1755"/><use href="#s" x="1001" y="1755"/><use href="#s" x="1100" y="1755"/><use href="#s" x="475" y="1844"/><use href="#s" x="441" y="1925"/><use href="#s" x="390" y="2116"/><use href="#s" x="370" y="2225"/><use href="#s" x="344" y="2332"/><use href="#s" x="324" y="2458"/>
<g transform="translate(0,1754)"><use href="#o" x="546"/><use href="#o" x="577"/><use href="#o" x="644"/><use href="#o" x="676"/><use href="#o" x="742"/><use href="#o" x="775"/><use href="#o" x="840"/><use href="#o" x="873"/><use href="#o" x="938"/><use href="#o" x="971"/><use href="#o" x="1036"/><use href="#o" x="1068"/><use href="#o" x="1133"/></g>
<use href="#o" x="510" y="1792"/><use href="#o" x="496" y="1818"/><use href="#o" x="468" y="1874"/><use href="#o" x="455" y="1900"/><use href="#o" x="380" y="2149"/><use href="#o" x="374" y="2183"/><use href="#o" x="357" y="2260"/><use href="#o" x="351" y="2295"/><use href="#o" x="335" y="2378"/><use href="#o" x="329" y="2410"/><use href="#o" x="312" y="2494"/><use href="#o" x="305" y="2528"/>
<g transform="translate(0,2731)"><use href="#d" x="537"/><use href="#d" x="635"/><use href="#d" x="733"/><use href="#d" x="832"/><use href="#d" x="930"/><use href="#d" x="1028"/><use href="#d" x="1126"/><use href="#d" x="1224"/><use href="#d" x="1323"/><use href="#d" x="1421"/><use href="#d" x="1519"/><use href="#d" x="1617"/><use href="#d" x="1715"/><use href="#d" x="1814"/><use href="#d" x="1912"/><use href="#d" x="2010"/><use href="#d" x="2108"/><use href="#d" x="2206"/><use href="#d" x="2305"/><use href="#d" x="2403"/><use href="#d" x="2501"/><use href="#d" x="2599"/><use href="#d" x="2697"/><use href="#d" x="2796"/><use href="#d" x="2894"/><use href="#d" x="2992"/><use href="#d" x="3090"/><use href="#d" x="3188"/><use href="#d" x="3287"/><use href="#d" x="3385"/><use href="#d" x="3483"/><use href="#d" x="3581"/><use href="#d" x="3679"/><use href="#d" x="3778"/></g>
<g transform="translate(0,2928)"><use href="#d" x="586"/><use href="#d" x="684"/><use href="#d" x="782"/><use href="#d" x="881"/><use href="#d" x="979"/><use href="#d" x="1077"/><use href="#d" x="1175"/><use href="#d" x="1273"/><use href="#d" x="1370"/><use href="#d" x="1469"/><use href="#d" x="1567"/><use href="#d" x="1665"/><use href="#d" x="1764"/><use href="#d" x="1862"/><use href="#d" x="1961"/><use href="#d" x="2059"/><use href="#d" x="2157"/><use href="#d" x="2256"/><use href="#d" x="2354"/><use href="#d" x="2452"/><use href="#d" x="2550"/><use href="#d" x="2649"/><use href="#d" x="2747"/><use href="#d" x="2845"/><use href="#d" x="2943"/><use href="#d" x="3041"/><use href="#d" x="3140"/><use href="#d" x="3238"/><use href="#d" x="3336"/><use href="#d" x="3434"/><use href="#d" x="3532"/><use href="#d" x="3630"/><use href="#d" x="3729"/></g>
<use href="#d" x="292" y="2566"/><use href="#d" x="276" y="2653"/><use href="#d" x="278" y="2736"/><use href="#d" x="321" y="2822"/><use href="#d" x="378" y="2887"/><use href="#d" x="472" y="2924"/>
<!-- pond willows -->
<g transform="translate(0,1832)"><use href="#w" x="1905"/><use href="#w" x="2036"/><use href="#w" x="2167"/><use href="#w" x="2298"/><use href="#w" x="2429"/><use href="#w" x="2560"/><use href="#w" x="2691"/><use href="#w" x="2822"/><use href="#w" x="2953"/><use href="#w" x="3084"/><use href="#w" x="3215"/><use href="#w" x="3346"/><use href="#w" x="3476"/><use href="#w" x="3607"/><use href="#w" x="3738"/>
<use href="#m" x="1966"/><use href="#m" x="2097"/><use href="#m" x="2229"/><use href="#m" x="2359"/><use href="#m" x="2490"/><use href="#m" x="2620"/><use href="#m" x="2751"/><use href="#m" x="2882"/><use href="#m" x="3014"/><use href="#m" x="3145"/><use href="#m" x="3276"/><use href="#m" x="3408"/><use href="#m" x="3538"/><use href="#m" x="3670"/></g>
<use href="#w" x="3768" y="1909"/><use href="#w" x="3768" y="2039"/><use href="#w" x="3768" y="2170"/><use href="#w" x="3768" y="2301"/><use href="#w" x="3768" y="2433"/><use href="#w" x="3768" y="2564"/>
<use href="#m" x="3768" y="1978"/><use href="#m" x="3768" y="2103"/><use href="#m" x="3768" y="2239"/><use href="#m" x="3768" y="2506"/><use href="#m" x="3768" y="2641"/>
<use href="#w" x="1905" y="1961"/><use href="#w" x="1905" y="2095"/><use href="#w" x="1905" y="2383"/><use href="#w" x="1905" y="2516"/><use href="#w" x="1905" y="2645"/>
<use href="#m" x="1905" y="1903"/><use href="#m" x="1905" y="2035"/><use href="#m" x="1905" y="2450"/><use href="#m" x="1905" y="2579"/>
<path d="M3785,2420L3803,2393M3785,2420L3795,2400M3800,2440V2410M3785,2500L3803,2475L3790,2530M3790,2570L3803,2525M3785,2640L3800,2615M3790,2650L3795,2620"/>
<circle cx="3792" cy="2691" r="11" fill="url(#hh)"/>
<!-- garden bursts -->
<use href="#b" x="1216" y="1794"/><use href="#b" x="1217" y="1853"/><use href="#b" x="1253" y="1849"/><use href="#b" x="1174" y="1884"/><use href="#b" x="1187" y="1904"/><use href="#b" x="1192" y="1931"/><use href="#b" x="1217" y="1949"/><use href="#b" x="1184" y="1958"/><use href="#b" x="1187" y="1978"/><use href="#b" x="1229" y="1976"/><use href="#b" x="1267" y="1958"/><use href="#b" x="1248" y="1975"/><use href="#b" x="1273" y="1981"/><use href="#b" x="1302" y="1971"/><use href="#b" x="1257" y="2002"/><use href="#b" x="1283" y="2005"/><use href="#b" x="1270" y="2035"/><use href="#b" x="1264" y="2062"/><use href="#b" x="1289" y="2055"/><use href="#b" x="1267" y="2079"/><use href="#b" x="1446" y="1904"/><use href="#b" x="1586" y="1813"/><use href="#b" x="1602" y="1821"/><use href="#b" x="1653" y="1787"/><use href="#b" x="1688" y="1789"/><use href="#b" x="1280" y="2370"/><use href="#b" x="1354" y="2389"/><use href="#b" x="1411" y="2399"/><use href="#b" x="1312" y="2422"/><use href="#b" x="1375" y="2427"/><use href="#b" x="1267" y="2468"/><use href="#b" x="1287" y="2506"/>
<use href="#r" x="1294" y="1807"/><use href="#r" x="1564" y="1846"/><use href="#r" x="1287" y="1920"/><use href="#r" x="1342" y="1904"/><use href="#r" x="1190" y="2452"/><use href="#r" x="1217" y="2485"/><use href="#r" x="1190" y="2519"/><use href="#r" x="1217" y="2551"/><use href="#r" x="1190" y="2583"/><use href="#r" x="1217" y="2615"/><use href="#r" x="1190" y="2650"/><use href="#r" x="1217" y="2682"/><use href="#r" x="1190" y="2715"/>
<g transform="translate(1484,1968) scale(1.8)"><use href="#q"/></g><g transform="translate(1540,2020) scale(1.9)"><use href="#q"/></g><g transform="translate(1353,1996) scale(1.05)"><use href="#q"/></g><g transform="translate(1395,1969) scale(1.05)"><use href="#q"/></g><g transform="translate(1428,2000) scale(1.05)"><use href="#q"/></g><g transform="translate(1396,2038) scale(1.15)"><use href="#q"/></g><g transform="translate(1495,2052) scale(1.15)"><use href="#q"/></g><g transform="translate(1617,1904) scale(1.05)"><use href="#q"/></g>
<use href="#f" x="1607" y="2027"/><use href="#f" x="1552" y="2105"/><use href="#f" x="1588" y="2114"/><use href="#f" x="1283" y="2601"/><use href="#f" x="1250" y="2649"/>
<g transform="translate(0,2184)"><use href="#g" x="1261"/><use href="#g" x="1326"/><use href="#g" x="1391"/><use href="#g" x="1458"/><use href="#g" x="1522"/><use href="#g" x="1588"/><use href="#g" x="1653"/><use href="#g" x="1814"/></g>
<g transform="translate(0,2280)"><use href="#g" x="1262"/><use href="#g" x="1331"/><use href="#g" x="1395"/><use href="#g" x="1462"/><use href="#g" x="1548"/><use href="#g" x="1617"/><use href="#g" x="1678"/><use href="#g" x="1747"/><use href="#g" x="1812"/></g>
<use href="#o" x="1720" y="1833"/><use href="#o" x="1694" y="1834"/><use href="#o" x="1671" y="1837"/><use href="#o" x="1648" y="1845"/><use href="#o" x="1627" y="1857"/><use href="#o" x="1705" y="1865"/><use href="#o" x="1606" y="1873"/><use href="#o" x="1589" y="1891"/><use href="#o" x="1571" y="1904"/><use href="#o" x="1550" y="1918"/><use href="#o" x="1529" y="1924"/><use href="#o" x="1502" y="1926"/><use href="#o" x="1477" y="1926"/><use href="#o" x="1452" y="1928"/><use href="#o" x="1428" y="1926"/><use href="#o" x="1404" y="1924"/><use href="#o" x="1379" y="1932"/><use href="#o" x="1359" y="1944"/><use href="#o" x="1342" y="1961"/><use href="#o" x="1638" y="1930"/><use href="#o" x="1684" y="1916"/><use href="#o" x="1310" y="2028"/><use href="#o" x="1345" y="2038"/><use href="#o" x="1322" y="2045"/><use href="#o" x="1300" y="2077"/><use href="#o" x="1268" y="2115"/><use href="#o" x="1299" y="2102"/><use href="#o" x="1299" y="2125"/><use href="#o" x="1270" y="2142"/><use href="#o" x="1297" y="2150"/><use href="#o" x="1294" y="2174"/><use href="#o" x="1353" y="2071"/><use href="#o" x="1586" y="1995"/><use href="#o" x="1656" y="1993"/><use href="#o" x="1672" y="2015"/><use href="#o" x="1672" y="2046"/><use href="#o" x="1645" y="2052"/><use href="#o" x="1656" y="2082"/><use href="#o" x="1583" y="2079"/><use href="#o" x="1679" y="2124"/><use href="#o" x="1614" y="2144"/><use href="#o" x="1389" y="2353"/><use href="#o" x="1417" y="2362"/><use href="#o" x="1643" y="2393"/><use href="#o" x="1616" y="2414"/><use href="#o" x="1641" y="2424"/><use href="#o" x="1844" y="2661"/><use href="#o" x="1869" y="2640"/><use href="#o" x="1870" y="2692"/>
<use href="#k" x="1745" y="2481"/><use href="#k" x="1714" y="2519"/><use href="#k" x="1728" y="2543"/><use href="#k" x="1744" y="2536"/><use href="#k" x="1714" y="2564"/><use href="#k" x="1766" y="2590"/><use href="#k" x="1736" y="2605"/><use href="#k" x="1698" y="2618"/><use href="#k" x="1714" y="2645"/><use href="#k" x="1738" y="2636"/><use href="#k" x="1758" y="2631"/><use href="#k" x="1714" y="2672"/><use href="#k" x="1760" y="2667"/><use href="#k" x="1795" y="2668"/><use href="#k" x="1809" y="2647"/><use href="#k" x="1742" y="2692"/><use href="#k" x="1790" y="2702"/>
<use href="#k" x="1308" y="2333"/><use href="#k" x="1328" y="2347"/><use href="#k" x="1371" y="2324"/>
<!-- lotus -->
<use href="#p" x="3602" y="2378"/><use href="#p" x="3619" y="2378"/><use href="#p" x="3654" y="2407"/><use href="#p" x="3671" y="2407"/><use href="#p" x="3598" y="2445"/><use href="#p" x="3617" y="2445"/><use href="#p" x="3644" y="2445"/><use href="#p" x="3662" y="2445"/><use href="#p" x="3597" y="2468"/><use href="#p" x="3614" y="2468"/><use href="#p" x="3651" y="2474"/><use href="#p" x="3670" y="2474"/><use href="#p" x="3634" y="2507"/><use href="#p" x="3651" y="2507"/><use href="#p" x="3631" y="2539"/><use href="#p" x="3648" y="2539"/><use href="#p" x="3224" y="2571"/><use href="#p" x="3242" y="2569"/><use href="#p" x="3258" y="2574"/><use href="#p" x="3276" y="2573"/><use href="#p" x="3300" y="2579"/><use href="#p" x="3317" y="2579"/><use href="#p" x="3333" y="2574"/><use href="#p" x="3354" y="2574"/><use href="#p" x="3370" y="2573"/><use href="#p" x="3388" y="2571"/><use href="#p" x="3333" y="2586"/><use href="#p" x="3351" y="2581"/><use href="#p" x="3103" y="2616"/><use href="#p" x="3121" y="2614"/><use href="#p" x="3136" y="2618"/><use href="#p" x="3155" y="2618"/><use href="#p" x="3235" y="2616"/><use href="#p" x="3253" y="2616"/><use href="#p" x="3268" y="2620"/><use href="#p" x="3287" y="2620"/><use href="#p" x="3547" y="2611"/><use href="#p" x="3565" y="2610"/><use href="#p" x="3581" y="2613"/><use href="#p" x="3598" y="2611"/>

<!-- lower leaders -->
<path stroke-width="1.4" d="M803,1582V1755M1040,1582V1753M1186,1596V1693M1322,1582V1753M1518,1594V1693M2370,1594V1693M2693,1600V1693M2171,1834V1926M2361,1840V1926M3527,2454H3597M1847,1926H1905M1835,2007H1879M1851,2415H1908M1816,2481H1867M1519,1956H1570M1470,2113H1535M1066,1854H1203M1082,1919H1267M1080,1977H1190M1155,2066H1344M1662,2188L1700,2199M1715,2253V2370M1426,2342H1548M1114,2348H1279M1158,2422H1312M1497,2414H1615M1085,2513H1190M1061,2651H1248M1595,2563H1707M1369,2956V3000"/>

<!-- Watermark logo -->
<g stroke="#b8b8b8" stroke-width="9" stroke-linejoin="miter">
<path d="M1445,1218L1619,1138L1640,1122L1690,1103L1715,1161L1706,1186L1682,1202M1665,1132L1715,1161"/>
<path d="M1445,1218L1433,1244L1462,1301L1590,1237M1474,1285L1590,1224M1445,1218L1462,1270"/>
<path d="M1619,1138L1549,1387M1640,1122L1566,1387M1690,1103L1628,1390"/>
<path d="M1433,1390H1777V1448H1433ZM1408,1413L1433,1390M1408,1413V1473H1756L1777,1448M1408,1473L1433,1448M1532,1473L1584,1488L1615,1473"/>
</g>
</g>

<!-- watermark text -->
<g style="font-weight:bold">
<text x="1773" y="1314" font-size="205" textLength="265" lengthAdjust="spacingAndGlyphs" style="font-family:'Liberation Sans',sans-serif;fill:#b8b8b8;font-weight:bold">TZ</text>
<text x="2050" y="1311" font-size="186" style="font-family:'Noto Sans CJK SC',sans-serif;fill:#b8b8b8;font-weight:bold">素材网</text>
<text x="1997" y="1433" font-size="62" textLength="596" lengthAdjust="spacing" style="font-family:'Liberation Sans',sans-serif;fill:#b8b8b8;font-weight:bold">TZSUCAI.COM</text>
</g>

<!-- labels top -->
<g font-size="27">
<text x="1174" y="28">假山石1组</text>
<text x="1272" y="74">龙柏24</text>
<text x="1505" y="52">银杏17</text>
<text x="1704" y="52">白蜡150</text>
<text x="1829" y="100">火棘800</text>
<text x="2043" y="77">柿子树15</text>
<text x="2930" y="62">龙柏11</text>
<text x="3668" y="76">龙柏17</text>
<text x="762" y="423">柿子树</text>
<text x="762" y="452">60</text>
<text x="822" y="582">大法桐3</text>
<text x="967" y="968">垂柳7</text>
<text x="1119" y="955">合欢7</text>
<text x="1300" y="968">冬青球7</text>
<text x="1587" y="1030">品种月季700</text>
<text x="1781" y="1010">假山石1组</text>
<text x="2121" y="944">冬青球5</text>
<text x="2047" y="996">84k毛白杨5</text>
<text x="2463" y="996">合欢120</text>
<text x="3115" y="1012">榆叶梅</text>
<text x="3115" y="1043" style="fill:#555">70</text>
<text x="2341" y="412" font-size="20">火棘</text>
<text x="1810" y="650" font-size="24">月季</text>
</g>
<!-- labels bottom -->
<text x="1750" y="1495" font-size="34">水榭</text>
<g font-size="27">
<text x="802" y="1576">合欢13</text>
<text x="1039" y="1576">冬青球26</text>
<text x="1185" y="1592">冬青球9</text>
<text x="1322" y="1576">碧桃9</text>
<text x="1518" y="1593">垂柳9</text>
<text x="2368" y="1593">冬青球37</text>
<text x="2699" y="1595">垂柳37</text>
<text x="2168" y="1955">垂柳26</text>
<text x="2349" y="1958">美人蕉260</text>
<text x="1905" y="1939">小龙柏12m2</text>
<text x="1879" y="2022">金叶女贞19m2</text>
<text x="1909" y="2428">小龙柏12m2</text>
<text x="1869" y="2496">金叶女贞19m2</text>
<text x="1576" y="1969">雪松8</text>
<text x="1401" y="2122">银杏3</text>
<text x="1074" y="1851">龙柏6</text>
<text x="1076" y="1916">栾树4</text>
<text x="1040" y="1975">黄刺玫30</text>
<text x="1122" y="2062">冬青球17</text>
<text x="1688" y="2207">龙爪槐17</text>
<text x="1701" y="2251">假山石1组</text>
<text x="1398" y="2336">蜀桧6m2</text>
<text x="1116" y="2371">紫薇桩3</text>
<text x="1162" y="2416">龙柏7</text>
<text x="1455" y="2410">冬青球8</text>
<text x="1058" y="2504">紫叶李9</text>
<text x="1064" y="2648">银杏2</text>
<text x="1595" y="2561">蜡梅</text>
<text x="3432" y="2461">荷花300</text>
</g>
<text x="2324" y="1988" font-size="22">（10棵/每组）</text>
<text x="1647" y="2343" font-size="22">南天竹</text>
<g font-size="34">
<text x="841" y="1920">六角亭</text>
<text x="659" y="2341">停车场</text>
<text x="1084" y="2244">大门</text>
<text x="748" y="2669">小卖部</text>
<text x="1474" y="2672">办公室</text>
<text x="1471" y="1904">厕所</text>
</g>
<text x="2056" y="2253" font-size="45">姜太公钓鱼</text>
<text x="2053" y="2292" font-size="24">（雕塑）</text>
<text x="2468" y="2351" font-size="44">养鱼池</text>
</svg>
</body></html>
